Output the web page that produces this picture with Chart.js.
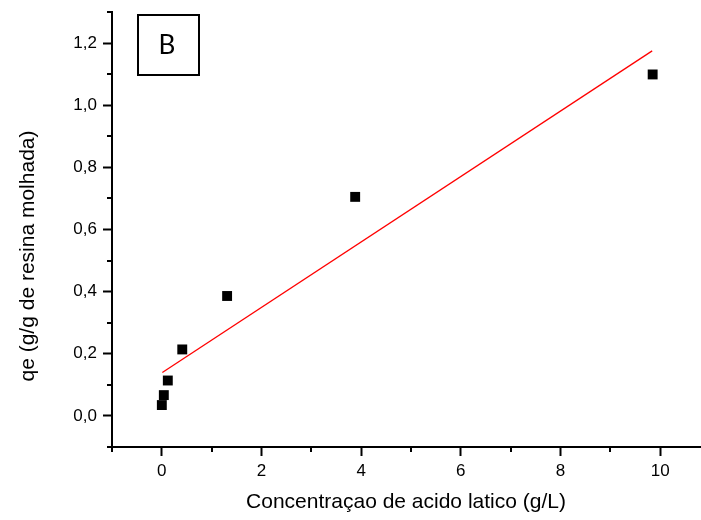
<!DOCTYPE html>
<html>
<head>
<meta charset="utf-8">
<script src="https://cdn.jsdelivr.net/npm/chart.js@4"></script>
<style>
  html, body { margin: 0; padding: 0; background: #fff; }
</style>
</head>
<body>
<canvas id="isoChart" width="701" height="520"></canvas>
<script>
const concX = [0.0, 0.04, 0.12, 0.41, 1.31, 3.88, 9.85];
const qeY = [0.035, 0.067, 0.114, 0.214, 0.386, 0.705, 1.099];

// reta ajustada (extremos)
const fitX = [0.01, 9.84];
const fitY = [0.14, 1.175];

// ticks
const xTicks = [0, 2, 4, 6, 8, 10];
const xMinor = [-1, 1, 3, 5, 7, 9];
const yTicks = [0.0, 0.2, 0.4, 0.6, 0.8, 1.0, 1.2];
const yMinor = [-0.1, 0.1, 0.3, 0.5, 0.7, 0.9, 1.1, 1.3];

const xTitle = "Concentraçao de acido latico (g/L)";
const yTitle = "qe (g/g de resina molhada)";
const panelLabel = "B";

const FONT = '"Liberation Sans", Arial, sans-serif';

// ticks menores, titulo do eixo y e caixa "B"
const extras = {
  id: "extras",
  afterDraw(chart) {
    const { ctx, chartArea, scales } = chart;
    ctx.save();
    ctx.strokeStyle = "#000";
    ctx.lineWidth = 2;
    ctx.beginPath();
    xMinor.forEach(function (v) {
      const px = Math.round(scales.x.getPixelForValue(v));
      ctx.moveTo(px, chartArea.bottom);
      ctx.lineTo(px, chartArea.bottom + 5);
    });
    yMinor.forEach(function (v) {
      const py = Math.round(scales.y.getPixelForValue(v));
      ctx.moveTo(chartArea.left, py);
      ctx.lineTo(chartArea.left - 5, py);
    });
    ctx.stroke();

    // caixa B
    ctx.lineWidth = 2;
    ctx.strokeRect(chartArea.left + 26, chartArea.top + 3, 61, 60);
    ctx.fillStyle = "#000";
    ctx.font = '26px Lato, "Liberation Sans", sans-serif';
    ctx.textAlign = "center";
    ctx.textBaseline = "middle";
    ctx.fillText(panelLabel, chartArea.left + 55, chartArea.top + 34);

    // titulo eixo y
    ctx.font = "21px " + FONT;
    ctx.translate(28, 256);
    ctx.rotate(-Math.PI / 2);
    ctx.fillText(yTitle, 0, 0);
    ctx.restore();
  },
};

const ctx = document.getElementById("isoChart");
new Chart(ctx.getContext("2d"), {
  type: "scatter",
  data: {
    datasets: [
      {
        label: "qe",
        data: concX.map((x, i) => ({ x: x, y: qeY[i] })),
        pointStyle: "rect",
        pointRadius: 7,
        pointBorderWidth: 0,
        backgroundColor: "#000",
        borderColor: "#000",
      },
      {
        label: "ajuste",
        data: fitX.map((x, i) => ({ x: x, y: fitY[i] })),
        showLine: true,
        pointRadius: 0,
        borderColor: "#ff0000",
        borderWidth: 1.3,
      },
    ],
  },
  options: {
    responsive: false,
    animation: false,
    layout: { autoPadding: false, padding: { top: 12, right: 1, left: 0, bottom: 0 } },
    plugins: {
      legend: { display: false },
      tooltip: { enabled: false },
    },
    scales: {
      x: {
        type: "linear",
        min: -1,
        max: 10.8,
        afterBuildTicks: (s) => { s.ticks = xTicks.map((v) => ({ value: v })); },
        afterFit: (s) => { s.height = 73; s.paddingLeft = 0; s.paddingRight = 0; },
        border: { display: true, color: "#000", width: 2 },
        grid: { drawOnChartArea: false, tickLength: 9, tickWidth: 2, tickColor: "#000" },
        ticks: {
          color: "#000",
          font: { family: FONT, size: 17 },
          padding: 5,
          maxRotation: 0,
          autoSkip: false,
        },
        title: {
          display: true,
          text: xTitle,
          color: "#000",
          font: { family: FONT, size: 21 },
          padding: { top: 0, bottom: 5 },
        },
      },
      y: {
        type: "linear",
        min: -0.1,
        max: 1.3,
        afterBuildTicks: (s) => { s.ticks = yTicks.map((v) => ({ value: v })); },
        afterFit: (s) => { s.width = 112; s.paddingTop = 0; s.paddingBottom = 0; },
        border: { display: true, color: "#000", width: 2 },
        grid: { drawOnChartArea: false, tickLength: 9, tickWidth: 2, tickColor: "#000" },
        ticks: {
          color: "#000",
          font: { family: FONT, size: 17 },
          padding: 6,
          autoSkip: false,
          callback: (v) => Number(v).toFixed(1).replace(".", ","),
        },
      },
    },
  },
  plugins: [extras],
});
</script>
</body>
</html>
